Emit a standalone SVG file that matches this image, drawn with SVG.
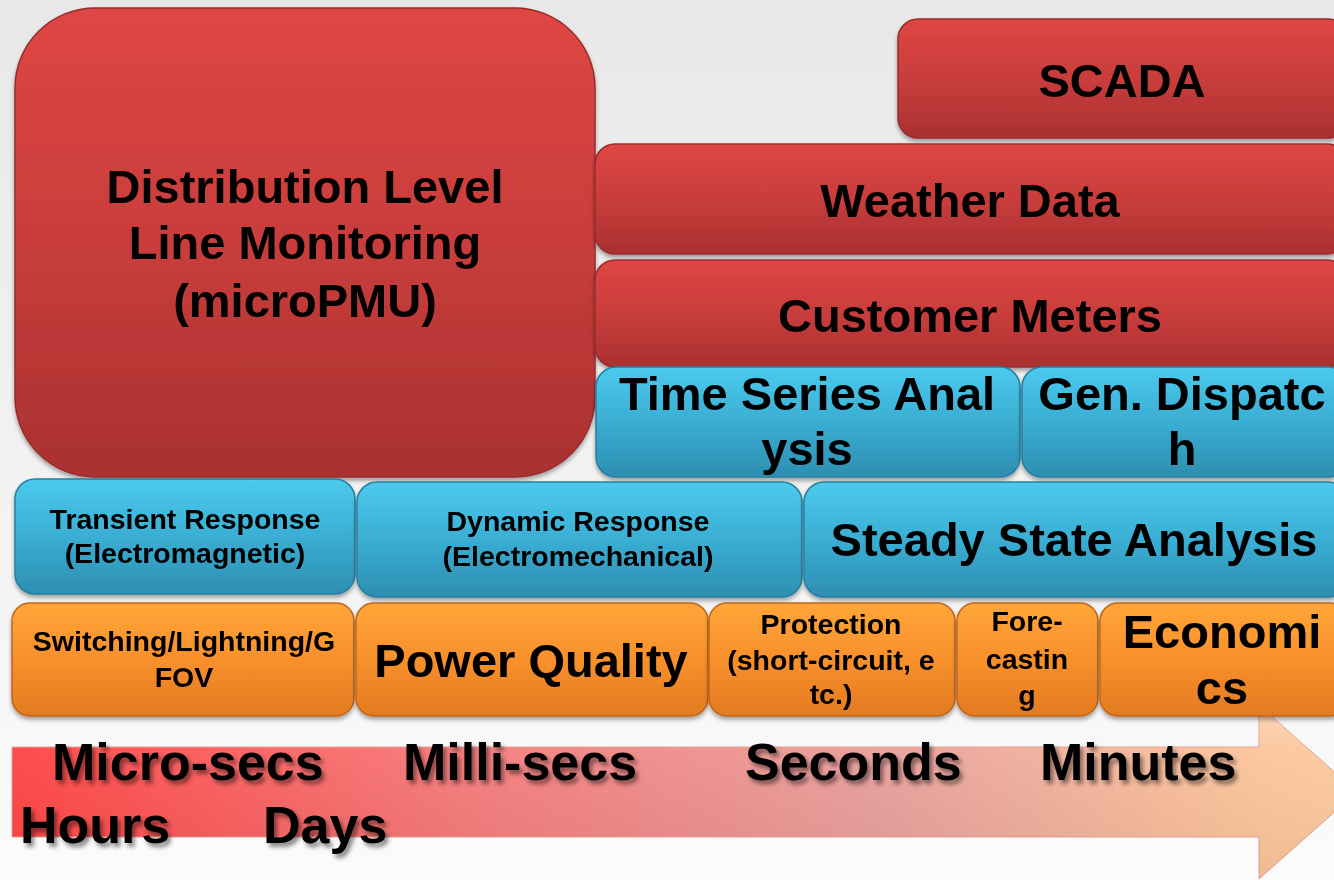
<svg xmlns="http://www.w3.org/2000/svg" width="1334" height="880" viewBox="0 0 1334 880">
<defs>
<linearGradient id="bg" x1="0" y1="0" x2="0" y2="1"><stop offset="0" stop-color="#e8e8e8"/><stop offset="1" stop-color="#fbfbfb"/></linearGradient>
<linearGradient id="red" x1="0" y1="0" x2="0" y2="1"><stop offset="0" stop-color="#de4644"/><stop offset="0.5" stop-color="#c93d3c"/><stop offset="1" stop-color="#a93131"/></linearGradient>
<linearGradient id="blue" x1="0" y1="0" x2="0" y2="1"><stop offset="0" stop-color="#4ccaee"/><stop offset="0.5" stop-color="#3aaed3"/><stop offset="1" stop-color="#2d8fb1"/></linearGradient>
<linearGradient id="orange" x1="0" y1="0" x2="0" y2="1"><stop offset="0" stop-color="#ffa638"/><stop offset="0.5" stop-color="#f8902c"/><stop offset="1" stop-color="#e37a22"/></linearGradient>
<linearGradient id="arrowH" x1="12" y1="0" x2="1357" y2="0" gradientUnits="userSpaceOnUse"><stop offset="0" stop-color="#ff4444"/><stop offset="0.35" stop-color="#f57c7c"/><stop offset="0.65" stop-color="#e8a09c"/><stop offset="0.93" stop-color="#fcc59a"/><stop offset="1" stop-color="#fccaa2"/></linearGradient>
<linearGradient id="gloss" x1="0" y1="0" x2="0" y2="1"><stop offset="0" stop-color="#ffffff" stop-opacity="0.35"/><stop offset="0.25" stop-color="#ffffff" stop-opacity="0.05"/><stop offset="1" stop-color="#000000" stop-opacity="0.05"/></linearGradient>
<filter id="sh" x="-5%" y="-5%" width="110%" height="120%"><feDropShadow dx="0" dy="3" stdDeviation="2" flood-color="#000" flood-opacity="0.35"/></filter>
<filter id="tsh" x="-5%" y="-10%" width="110%" height="130%"><feDropShadow dx="3" dy="4" stdDeviation="2" flood-color="#000" flood-opacity="0.45"/></filter>
<style>
.r{fill:url(#red);stroke:#9a2c2c;stroke-width:1.5}
.b{fill:url(#blue);stroke:#277f9e;stroke-width:1.5}
.o{fill:url(#orange);stroke:#c0661a;stroke-width:1.5}
text{font-family:"Liberation Sans",Arial,sans-serif;font-weight:bold;fill:#000;text-anchor:middle}
.big{font-size:47px}
.sm{font-size:28.5px}
.ar{font-size:52px;text-anchor:start}
</style>
</defs>
<rect width="1334" height="880" fill="url(#bg)"/>

<g id="timeline">
<path d="M12,747 H1259 V705 L1357,792 L1259,879 V837 H12 Z" fill="url(#arrowH)" stroke="#e0a090" stroke-width="1"/>
<path d="M12,747 H1259 V705 L1357,792 L1259,879 V837 H12 Z" fill="url(#gloss)"/>
<g filter="url(#tsh)">
<text class="ar" x="52" y="780">Micro-secs</text>
<text class="ar" x="403" y="780">Milli-secs</text>
<text class="ar" x="745" y="780">Seconds</text>
<text class="ar" x="1040" y="780">Minutes</text>
<text class="ar" x="20" y="843">Hours</text>
<text class="ar" x="263" y="843">Days</text>
</g>
</g>

<g id="connectors"/>

<g id="micropmu" filter="url(#sh)">
<rect class="r" x="15" y="8" width="580" height="469" rx="80" ry="80"/>
<text class="big" x="305" y="203">Distribution Level</text>
<text class="big" x="305" y="259">Line Monitoring</text>
<text class="big" x="305" y="317">(microPMU)</text>
</g>

<g id="scada" filter="url(#sh)">
<rect class="r" x="898" y="19" width="450" height="119" rx="20"/>
<text class="big" x="1122" y="97">SCADA</text>
</g>

<g id="weather" filter="url(#sh)">
<rect class="r" x="595" y="144" width="752" height="110" rx="20"/>
<text class="big" x="970" y="217">Weather Data</text>
</g>

<g id="meters" filter="url(#sh)">
<rect class="r" x="595" y="260" width="752" height="107" rx="20"/>
<text class="big" x="970" y="332">Customer Meters</text>
</g>

<g id="timeseries" filter="url(#sh)">
<rect class="b" x="596" y="367" width="424" height="110" rx="20"/>
<text class="big" x="807" y="410">Time Series Anal</text>
<text class="big" x="807" y="465">ysis</text>
</g>

<g id="gendispatch" filter="url(#sh)">
<rect class="b" x="1022" y="367" width="326" height="110" rx="20"/>
<text class="big" x="1182" y="410">Gen. Dispatc</text>
<text class="big" x="1182" y="465">h</text>
</g>

<g id="transient" filter="url(#sh)">
<rect class="b" x="15" y="479" width="340" height="115" rx="20"/>
<text class="sm" x="185" y="529">Transient Response</text>
<text class="sm" x="185" y="563">(Electromagnetic)</text>
</g>

<g id="dynamic" filter="url(#sh)">
<rect class="b" x="357" y="482" width="445" height="115" rx="20"/>
<text class="sm" x="578" y="531">Dynamic Response</text>
<text class="sm" x="578" y="566">(Electromechanical)</text>
</g>

<g id="steady" filter="url(#sh)">
<rect class="b" x="804" y="482" width="544" height="115" rx="20"/>
<text class="big" x="1074" y="556">Steady State Analysis</text>
</g>

<g id="switching" filter="url(#sh)">
<rect class="o" x="12" y="603" width="342" height="113" rx="18"/>
<text class="sm" x="184" y="651">Switching/Lightning/G</text>
<text class="sm" x="184" y="687">FOV</text>
</g>

<g id="powerquality" filter="url(#sh)">
<rect class="o" x="356" y="603" width="352" height="113" rx="18"/>
<text class="big" x="531" y="677">Power Quality</text>
</g>

<g id="protection" filter="url(#sh)">
<rect class="o" x="709" y="603" width="246" height="113" rx="18"/>
<text class="sm" x="831" y="634">Protection</text>
<text class="sm" x="831" y="670">(short-circuit, e</text>
<text class="sm" x="831" y="704">tc.)</text>
</g>

<g id="forecasting" filter="url(#sh)">
<rect class="o" x="957" y="603" width="141" height="113" rx="18"/>
<text class="sm" x="1027" y="631">Fore-</text>
<text class="sm" x="1027" y="669">castin</text>
<text class="sm" x="1027" y="705">g</text>
</g>

<g id="economics" filter="url(#sh)">
<rect class="o" x="1100" y="603" width="248" height="113" rx="18"/>
<text class="big" x="1222" y="648">Economi</text>
<text class="big" x="1222" y="704">cs</text>
</g>
</svg>
